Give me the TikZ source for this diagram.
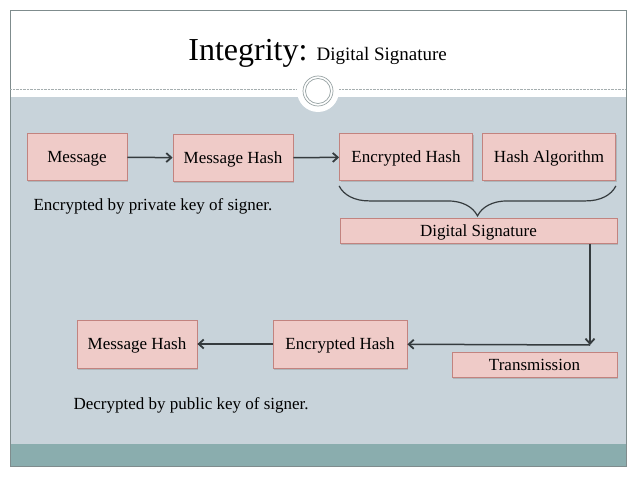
\documentclass[tikz,border=0pt]{standalone}
\usepackage{fontspec}
\setmainfont{Liberation Serif}
\usetikzlibrary{positioning,shadows,arrows.meta,decorations.pathreplacing}
\definecolor{bandgray}{HTML}{C8D3DA}
\definecolor{footteal}{HTML}{8AADAE}
\definecolor{boxpink}{HTML}{EFCBC8}
\definecolor{boxline}{HTML}{C2837F}
\definecolor{framegray}{HTML}{7F8C8D}
\definecolor{arrowgray}{HTML}{353B3E}
\tikzset{
  sigbox/.style={draw=boxline,fill=boxpink,line width=0.8pt,inner sep=0pt,
    font=\fontsize{17}{20}\selectfont,text height=11.5pt,text depth=0pt,
    drop shadow={opacity=0.35,shadow xshift=1.2pt,shadow yshift=-1.5pt}},
  flow/.style={draw=arrowgray,line width=1.5pt,-{Straight Barb[length=5pt,width=9pt,line width=1.8pt]}},
  note/.style={anchor=west,font=\fontsize{17}{20}\selectfont}
}
\begin{document}
\begin{tikzpicture}[x=1pt,y=-1pt]
\useasboundingbox (0,0) rectangle (638,479);
%\draw[step=50,gray,very thin] (0,0) grid (638,479); %background grid
\fill[white] (0,0) rectangle (638,479);
\fill[bandgray] (10,97) rectangle (626,444);
\fill[footteal] (10,444) rectangle (626,466);
\draw[framegray,line width=1pt] (10,10) rectangle (626,466); %frame
\draw[framegray!70,densely dotted,thin] (10,89) -- (626,89);
\fill[white] (318,91) circle (21);
\draw[framegray!80,line width=0.7pt] (318,91) circle (15);
\draw[framegray!80,line width=0.7pt] (318,91) circle (12.5);
\node[anchor=base east,font=\fontsize{32}{36}\selectfont] (title) at (311,60) {Integrity:};
\node[anchor=base west,font=\fontsize{19}{22}\selectfont] (subtitle) at (313,60) {Digital Signature};
% signing side
\node[sigbox,minimum width=100,minimum height=47] (msg) at (77,157) {Message};
\node[sigbox,minimum width=120,minimum height=47] (hash) at (233,158) {Message Hash};
\node[sigbox,minimum width=133,minimum height=47] (enc) at (406,157) {Encrypted Hash};
\node[sigbox,minimum width=133,minimum height=47] (alg) at (549,157) {Hash Algorithm};
\node[sigbox,minimum width=277,minimum height=25] (sig) at (478.5,231) {Digital Signature};
\node[note] (priv) at (30,206) {Encrypted by private key of signer.};
\draw[flow] (msg) -- (hash);
\draw[flow] (hash) -- (enc);
\draw[arrowgray,line width=1.2pt,decorate,decoration={brace,amplitude=30}]
  ([yshift=-5pt]alg.south east) -- ([yshift=-5pt]enc.south west);
% verifying side
\coordinate (turn) at (590,345);
\node[sigbox,minimum width=165,minimum height=25] (trans) at (534.5,364.5) {Transmission};
\node[sigbox,minimum width=120,minimum height=48] (hash2) at (137,344) {Message Hash};
\node[sigbox,minimum width=134,minimum height=48] (enc2) at (340,344) {Encrypted Hash};
\node[note] (pub) at (70,405) {Decrypted by public key of signer.};
\draw[flow] (sig.south -| turn) -- (turn);
\draw[flow] (turn) -- (enc2);
\draw[flow] (enc2) -- (hash2);
\end{tikzpicture}
\end{document}
